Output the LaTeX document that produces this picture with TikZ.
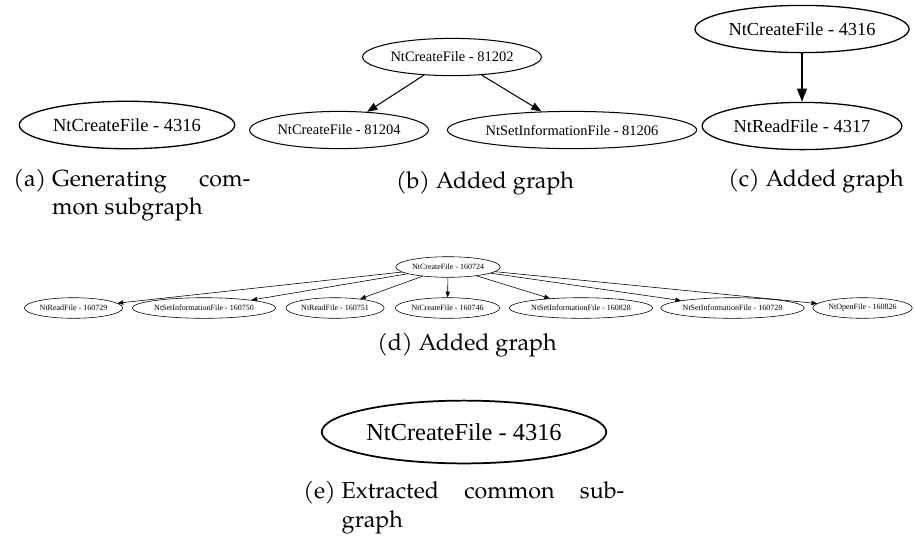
\documentclass[tikz,border=0pt]{standalone}
\usepackage{fontspec}
\newfontfamily\gvfont{Liberation Serif}
\newfontfamily\palfont{texgyrepagella-regular.otf}
\newcommand\capfont{\palfont\fontsize{10pt}{12pt}\selectfont}
\usetikzlibrary{arrows.meta,shapes.geometric}

\tikzset{
  gvbase/.style={ellipse, draw, inner ysep=0pt},
  gvA/.style={gvbase, font=\gvfont\fontsize{7.95pt}{9pt}\selectfont,
    minimum height=20.4pt, inner xsep=0.95pt, line width=0.57pt},
  gvB/.style={gvbase, font=\gvfont\fontsize{6.22pt}{7pt}\selectfont,
    minimum height=16pt, inner xsep=0.75pt, line width=0.44pt},
  gvC/.style={gvbase, font=\gvfont\fontsize{7.9pt}{9pt}\selectfont,
    minimum height=20.3pt, inner xsep=0.95pt, line width=0.56pt},
  gvD/.style={gvbase, font=\gvfont\fontsize{3.44pt}{4pt}\selectfont,
    minimum height=8.85pt, inner xsep=0.41pt, line width=0.25pt},
  gvE/.style={gvbase, font=\gvfont\fontsize{10.5pt}{12pt}\selectfont,
    minimum height=27pt, inner xsep=1.26pt, line width=0.75pt},
  edgeB/.style={-{Triangle[length=4.45pt,width=3.3pt]}, line width=0.44pt},
  edgeC/.style={-{Triangle[length=5.6pt,width=4.2pt]}, line width=0.56pt},
  edgeD/.style={-{Triangle[length=2.45pt,width=1.85pt]}, line width=0.25pt},
  captext/.style={font=\capfont, inner sep=0pt},
}

\begin{document}
\begin{tikzpicture}[x=0.43pt, y=-0.43pt]
\useasboundingbox (0,0) rectangle (915,541);

% (a) single node
\node[gvA] (a0) at (127,125) {NtCreateFile - 4316};
\node[captext, anchor=base west] (capa1) at (13,186)
  {\hbox to 101.9pt{(a) Generating\hfill com-}};
\node[captext, anchor=base west] (capa2) at (13,214)
  {\phantom{(a)\ }mon subgraph};

% (b) one parent, two children
\node[gvB] (b0) at (452,57) {NtCreateFile - 81202};
\node[gvB] (b1) at (339,130) {NtCreateFile - 81204};
\node[gvB] (b2) at (572,130) {NtSetInformationFile - 81206};
\draw[edgeB] (b0) -- (b1);
\draw[edgeB] (b0) -- (b2);
\node[captext, anchor=base] (capb) at (485,188) {(b) Added graph};

% (c) chain of two
\node[gvC] (c0) at (802,29) {NtCreateFile - 4316};
\node[gvC] (c1) at (802,126) {NtReadFile - 4317};
\draw[edgeC] (c0) -- (c1);
\node[captext, anchor=base] (capc) at (816,186) {(c) Added graph};

% (d) fan-out of seven children
\node[gvD] (d0) at (448,267) {NtCreateFile - 160724};
\node[gvD] (d1) at (73.5,308) {NtReadFile - 160729};
\node[gvD] (d2) at (204,308) {NtSetInformationFile - 160750};
\node[gvD] (d3) at (335,308) {NtReadFile - 160751};
\node[gvD] (d4) at (447.5,308) {NtCreateFile - 160746};
\node[gvD] (d5) at (581,308) {NtSetInformationFile - 160828};
\node[gvD] (d6) at (732.5,308) {NtSetInformationFile - 160728};
\node[gvD] (d7) at (862.5,308) {NtOpenFile - 160826};
\foreach \k in {1,...,7} \draw[edgeD] (d0) -- (d\k);
\node[captext, anchor=base] (capd) at (467,350) {(d) Added graph};

% (e) extracted common subgraph
\node[gvE] (e0) at (464,432) {NtCreateFile - 4316};
\node[captext, anchor=base west] (cape1) at (303,498)
  {\hbox to 138pt{(e) Extracted\hfill common\hfill sub-}};
\node[captext, anchor=base west] (cape2) at (303,527)
  {\phantom{(e)\ }graph};
\end{tikzpicture}
\end{document}
